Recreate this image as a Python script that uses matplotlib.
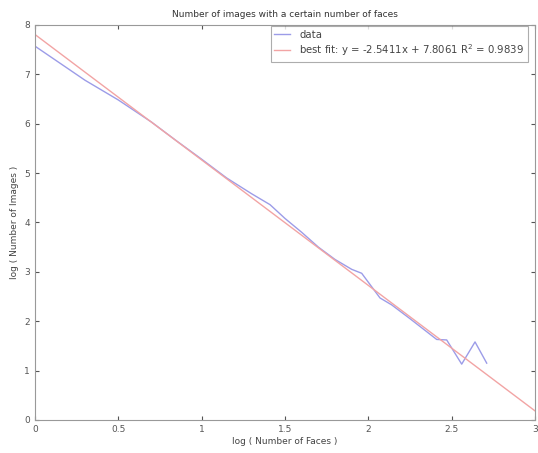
import numpy as np
import matplotlib
matplotlib.use('Agg')
import matplotlib.pyplot as plt

# ── data ───────────────────────────────────────────────────────────────────
log_faces = [0.0, 0.3, 0.5, 0.7, 0.85, 1.0, 1.15, 1.3, 1.41, 1.5, 1.6, 1.7,
             1.8, 1.9, 1.96, 2.07, 2.14, 2.25, 2.41, 2.47, 2.56, 2.64, 2.71]
log_images = [7.57, 6.88, 6.48, 6.03, 5.65, 5.28, 4.90, 4.58, 4.36, 4.08, 3.80,
              3.50, 3.25, 3.05, 2.97, 2.47, 2.33, 2.05, 1.63, 1.62, 1.13, 1.58, 1.15]

SLOPE, INTERCEPT, R2 = -2.5411, 7.8061, 0.9839
FIT_X = [0.0, 3.0]

# ── figure ─────────────────────────────────────────────────────────────────
fig = plt.figure(figsize=(5.38, 4.53), dpi=100)
ax = fig.add_axes([0.065, 0.073, 0.9295, 0.872])

fit_y = [SLOPE * x + INTERCEPT for x in FIT_X]
ax.plot(log_faces, log_images, color='#9c9ce8', lw=1.0, label='data')
ax.plot(FIT_X, fit_y, color='#f2a4a4', lw=1.0,
        label='best fit: y = %.4fx + %.4f R$^2$ = %.4f' % (SLOPE, INTERCEPT, R2))

ax.set_xlim(0, 3)
ax.set_ylim(0, 8)
ax.set_xticks([0, 0.5, 1, 1.5, 2, 2.5, 3])
ax.set_xticklabels(['0', '0.5', '1', '1.5', '2', '2.5', '3'])
ax.set_yticks(range(0, 9))
ax.tick_params(direction='in', length=3, labelsize=6.5, colors='#555555',
               top=True, right=True)
for sp in ax.spines.values():
    sp.set_color('#999999')
    sp.set_linewidth(0.8)

ax.set_title('Number of images with a certain number of faces', fontsize=6.5,
             color='#333333', pad=6)
ax.set_xlabel('log ( Number of Faces )', fontsize=6.5, color='#444444', labelpad=2)
ax.set_ylabel('log ( Number of Images )', fontsize=6.5, color='#444444', labelpad=4)

leg = ax.legend(loc='upper right', bbox_to_anchor=(0.986, 0.997), fontsize=7.3,
                frameon=True, fancybox=False, borderaxespad=0.0,
                handlelength=1.6, handletextpad=0.9, labelspacing=0.25,
                borderpad=0.35)
leg.get_frame().set_edgecolor('#999999')
leg.get_frame().set_linewidth(0.8)
for t in leg.get_texts():
    t.set_color('#444444')

fig.savefig('out.png', dpi=100)
